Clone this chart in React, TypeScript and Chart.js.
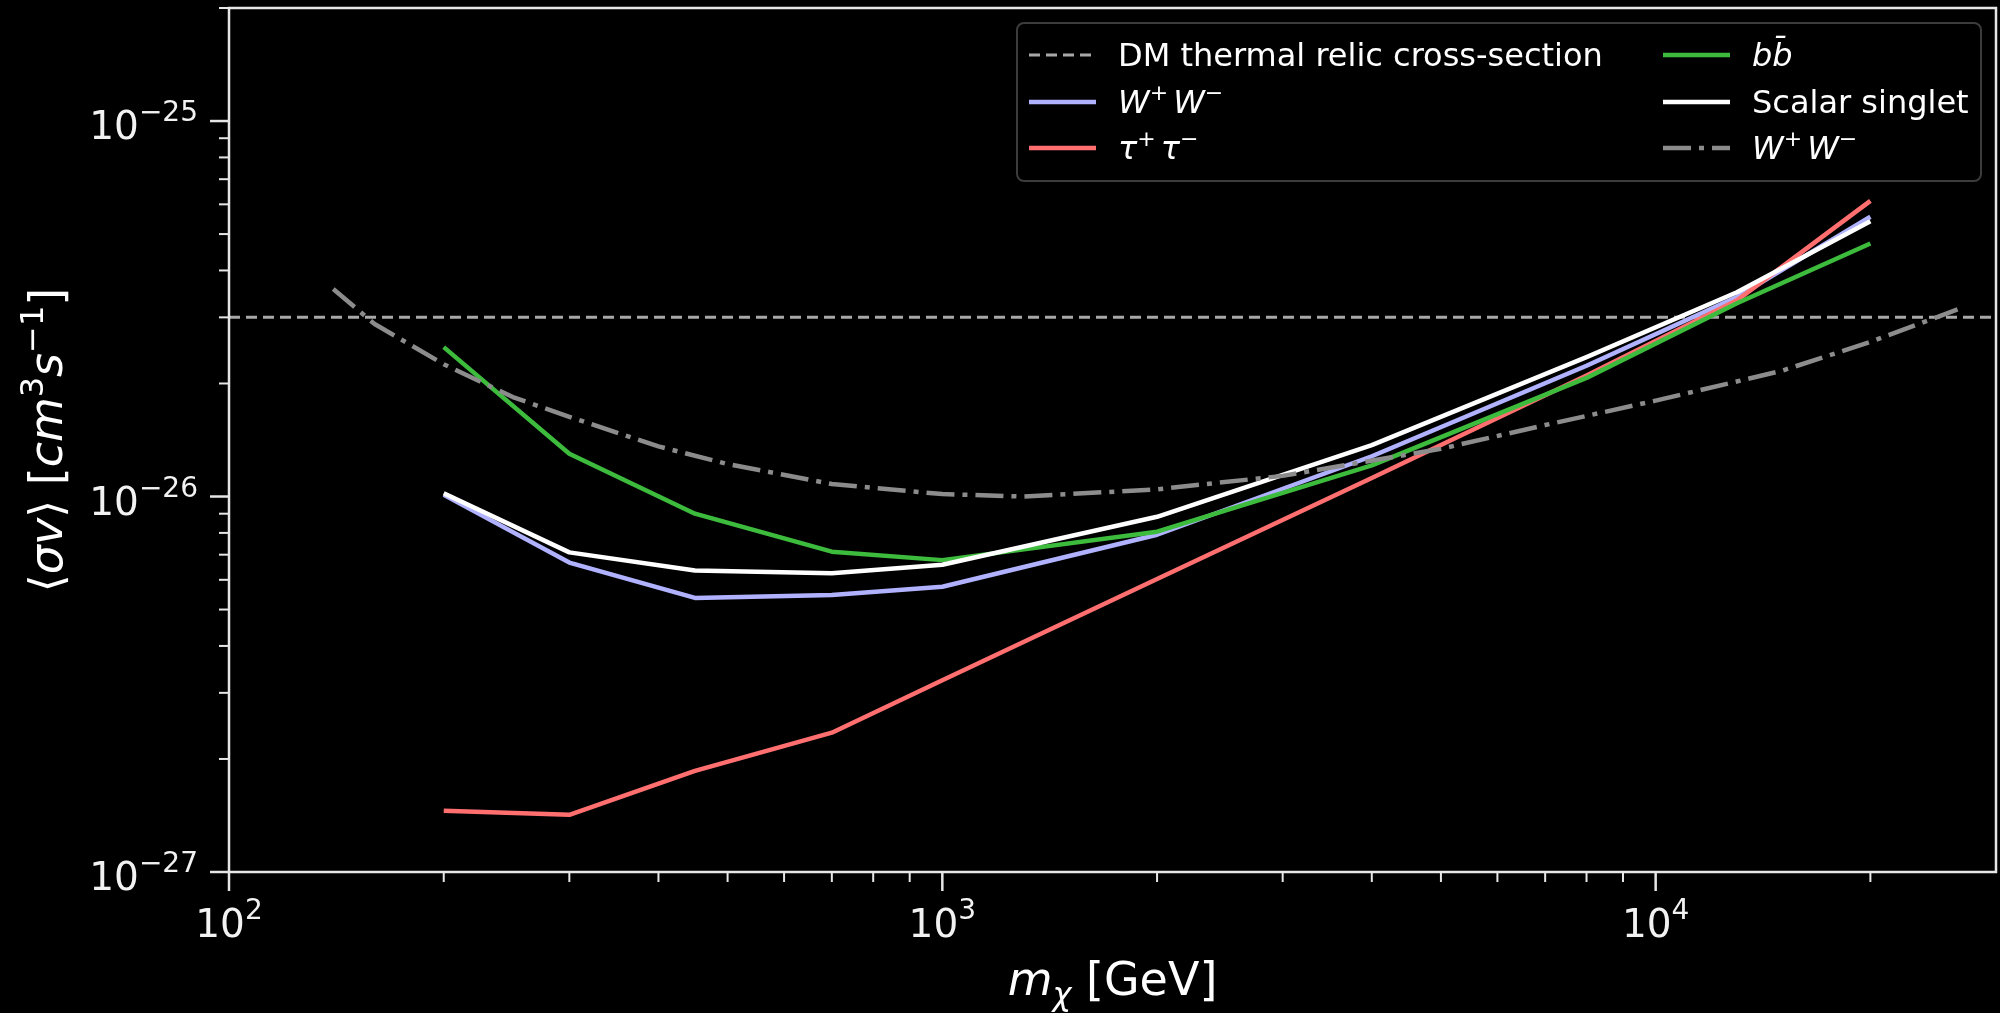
import React, { useEffect, useRef } from 'react';
import { Chart, registerables } from 'chart.js';

Chart.register(...registerables);

// ---------------- data ----------------
const masses = [200, 300, 450, 700, 1000, 2000, 4000, 8000, 13000, 20000];
const wwLimit = [1.01e-26, 6.67e-27, 5.37e-27, 5.47e-27, 5.75e-27, 7.91e-27, 1.28e-26, 2.23e-26, 3.40e-26, 5.56e-26];
const tautauLimit = [1.456e-27, 1.42e-27, 1.86e-27, 2.35e-27, 3.24e-27, 6.03e-27, 1.12e-26, 2.10e-26, 3.33e-26, 6.13e-26];
const bbLimit = [2.50e-26, 1.30e-26, 9.0e-27, 7.13e-27, 6.77e-27, 8.06e-27, 1.21e-26, 2.07e-26, 3.27e-26, 4.72e-26];
const scalarLimit = [1.02e-26, 7.1e-27, 6.35e-27, 6.25e-27, 6.58e-27, 8.83e-27, 1.37e-26, 2.35e-26, 3.50e-26, 5.41e-26];

const singletMasses = [140, 160, 200, 250, 300, 400, 500, 700, 1000, 1300, 2000, 3000, 5000, 7000, 10000, 15000, 20000, 26500];
const singletWW = [3.57e-26, 2.88e-26, 2.25e-26, 1.84e-26, 1.63e-26, 1.36e-26, 1.22e-26, 1.08e-26, 1.015e-26, 1.0e-26, 1.045e-26, 1.135e-26, 1.34e-26, 1.55e-26, 1.80e-26, 2.16e-26, 2.58e-26, 3.15e-26];

const relicX = [100, 30000];
const relicY = [3e-26, 3e-26];

const xMajorTicks = [100, 1000, 10000];
const xMajorExp = ['2', '3', '4'];
const xMinorTicks = [200, 300, 400, 500, 600, 700, 800, 900, 2000, 3000, 4000, 5000, 6000, 7000, 8000, 9000, 20000];
const yMajorTicks = [1e-27, 1e-26, 1e-25];
const yMajorExp = ['−27', '−26', '−25'];
const yMinorTicks = [2e-27, 3e-27, 4e-27, 5e-27, 6e-27, 7e-27, 8e-27, 9e-27, 2e-26, 3e-26, 4e-26, 5e-26, 6e-26, 7e-26, 8e-26, 9e-26, 2e-25];

const FONT = '"DejaVu Sans", "Liberation Sans", sans-serif';

type Seg = { t: string; italic?: boolean; s?: number; dy?: number };

function measureRich(ctx: CanvasRenderingContext2D, segs: Seg[], size: number) {
  let total = 0;
  for (const seg of segs) {
    ctx.font = `${seg.italic ? 'italic ' : ''}${Math.round(size * (seg.s ?? 1))}px ${FONT}`;
    total += ctx.measureText(seg.t).width;
  }
  return total;
}

function drawRich(ctx: CanvasRenderingContext2D, segs: Seg[], x: number, y: number, size: number, align: 'left' | 'center' | 'right') {
  const total = measureRich(ctx, segs, size);
  let cx = align === 'center' ? x - total / 2 : align === 'right' ? x - total : x;
  ctx.textAlign = 'left';
  ctx.textBaseline = 'alphabetic';
  for (const seg of segs) {
    ctx.font = `${seg.italic ? 'italic ' : ''}${Math.round(size * (seg.s ?? 1))}px ${FONT}`;
    ctx.fillText(seg.t, cx, y + (seg.dy ?? 0) * size);
    cx += ctx.measureText(seg.t).width;
  }
}

const pts = (xs: number[], ys: number[]) => xs.map((x, i) => ({ x, y: ys[i] }));

const decorPlugin = {
  id: 'decor',
  afterDraw(chart: any) {
    const { ctx, chartArea: a, scales } = chart;
    const xs = scales.x;
    const ys = scales.y;
    ctx.save();
    // axes box
    ctx.strokeStyle = '#e6e6e6';
    ctx.lineWidth = 2.5;
    ctx.strokeRect(a.left, a.top, a.right - a.left, a.bottom - a.top);
    // ticks
    const tick = (px: number, len: number, w: number, horiz: boolean) => {
      ctx.lineWidth = w;
      ctx.beginPath();
      if (horiz) {
        ctx.moveTo(a.left, px);
        ctx.lineTo(a.left - len, px);
      } else {
        ctx.moveTo(px, a.bottom);
        ctx.lineTo(px, a.bottom + len);
      }
      ctx.stroke();
    };
    xMajorTicks.forEach((v) => tick(xs.getPixelForValue(v), 19, 2.5, false));
    xMinorTicks.forEach((v) => tick(xs.getPixelForValue(v), 10, 2, false));
    yMajorTicks.forEach((v) => tick(ys.getPixelForValue(v), 19, 2.5, true));
    yMinorTicks.forEach((v) => tick(ys.getPixelForValue(v), 10, 2, true));

    // tick labels
    ctx.fillStyle = '#f2f2f2';
    xMajorTicks.forEach((v, i) => {
      drawRich(ctx, [{ t: '10' }, { t: xMajorExp[i], s: 0.72, dy: -0.46 }], xs.getPixelForValue(v), a.bottom + 65, 39, 'center');
    });
    yMajorTicks.forEach((v, i) => {
      drawRich(ctx, [{ t: '10' }, { t: yMajorExp[i], s: 0.72, dy: -0.46 }], a.left - 31, ys.getPixelForValue(v) + 18, 39, 'right');
    });

    // axis titles
    ctx.fillStyle = '#ffffff';
    drawRich(ctx, [
      { t: 'm', italic: true },
      { t: 'χ', italic: true, s: 0.7, dy: 0.22 },
      { t: ' [GeV]' },
    ], (a.left + a.right) / 2, 995, 46, 'center');

    ctx.save();
    ctx.translate(62, 440);
    ctx.rotate(-Math.PI / 2);
    drawRich(ctx, [
      { t: '⟨' },
      { t: 'σv', italic: true },
      { t: '⟩ [' },
      { t: 'cm', italic: true },
      { t: '3', s: 0.7, dy: -0.42 },
      { t: 's', italic: true },
      { t: '−1', s: 0.7, dy: -0.42 },
      { t: ']' },
    ], 0, 0, 46, 'center');
    ctx.restore();

    // legend
    const ds = chart.data.datasets;
    const bx = 1017, by = 23, bw = 964, bh = 158, r = 7;
    ctx.beginPath();
    ctx.moveTo(bx + r, by);
    ctx.arcTo(bx + bw, by, bx + bw, by + bh, r);
    ctx.arcTo(bx + bw, by + bh, bx, by + bh, r);
    ctx.arcTo(bx, by + bh, bx, by, r);
    ctx.arcTo(bx, by, bx + bw, by, r);
    ctx.closePath();
    ctx.fillStyle = 'rgba(0,0,0,0.85)';
    ctx.fill();
    ctx.strokeStyle = '#3c3c3c';
    ctx.lineWidth = 2;
    ctx.stroke();

    const rows = [55, 102, 148];
    const ww: Seg[] = [
      { t: 'W', italic: true }, { t: '+', s: 0.7, dy: -0.42 }, { t: ' ', s: 0.5 },
      { t: 'W', italic: true }, { t: '−', s: 0.7, dy: -0.42 },
    ];
    const tt: Seg[] = [
      { t: 'τ', italic: true }, { t: '+', s: 0.7, dy: -0.42 }, { t: ' ', s: 0.5 },
      { t: 'τ', italic: true }, { t: '−', s: 0.7, dy: -0.42 },
    ];
    const entries: { d: any; segs: Seg[]; col: number; row: number }[] = [
      { d: ds[0], segs: [{ t: 'DM thermal relic cross-section' }], col: 0, row: 0 },
      { d: ds[1], segs: ww, col: 0, row: 1 },
      { d: ds[2], segs: tt, col: 0, row: 2 },
      { d: ds[3], segs: [{ t: 'bb̄', italic: true }], col: 1, row: 0 },
      { d: ds[4], segs: [{ t: 'Scalar singlet' }], col: 1, row: 1 },
      { d: ds[5], segs: ww, col: 1, row: 2 },
    ];
    const handleX = [1029, 1663];
    const textX = [1118, 1752];
    for (const e of entries) {
      const y = rows[e.row];
      ctx.strokeStyle = e.d.borderColor;
      ctx.lineWidth = e.d.borderWidth;
      ctx.setLineDash(e.d.borderDash || []);
      ctx.beginPath();
      ctx.moveTo(handleX[e.col], y);
      ctx.lineTo(handleX[e.col] + 67, y);
      ctx.stroke();
      ctx.setLineDash([]);
      ctx.fillStyle = '#ffffff';
      drawRich(ctx, e.segs, textX[e.col], y + 11, 32, 'left');
    }
    ctx.restore();
  },
};

export default function App() {
  const ref = useRef<HTMLCanvasElement | null>(null);
  useEffect(() => {
    if (!ref.current) return;
    const chart = new Chart(ref.current, {
      type: 'line',
      data: {
        datasets: [
          { label: 'DM thermal relic cross-section', data: pts(relicX, relicY), borderColor: '#a8a8a8', borderWidth: 3, borderDash: [11, 6], order: 6 },
          { label: 'W+W-', data: pts(masses, wwLimit), borderColor: '#b0b2ff', borderWidth: 4.5, order: 5 },
          { label: 'tau+tau-', data: pts(masses, tautauLimit), borderColor: '#ff6f6f', borderWidth: 4.5, order: 4 },
          { label: 'bb', data: pts(masses, bbLimit), borderColor: '#3dbb3d', borderWidth: 4.5, order: 3 },
          { label: 'Scalar singlet', data: pts(masses, scalarLimit), borderColor: '#ffffff', borderWidth: 4.5, order: 2 },
          { label: 'W+W- singlet', data: pts(singletMasses, singletWW), borderColor: '#8c8c8c', borderWidth: 4.5, borderDash: [28, 8, 5, 8], order: 1 },
        ] as any,
      },
      options: {
        animation: false,
        responsive: false,
        devicePixelRatio: 1,
        layout: { padding: { top: 8, right: 4, left: 0, bottom: 0 } },
        elements: { point: { radius: 0 }, line: { tension: 0, borderJoinStyle: 'round', borderCapStyle: 'butt' } },
        plugins: { legend: { display: false }, tooltip: { enabled: false } },
        scales: {
          x: {
            type: 'logarithmic',
            min: 100,
            max: 30000,
            grid: { display: false },
            border: { display: false },
            ticks: { display: false },
            afterFit: (s: any) => { s.height = 141; s.paddingLeft = 0; s.paddingRight = 0; },
          },
          y: {
            type: 'logarithmic',
            min: 1e-27,
            max: 2e-25,
            grid: { display: false },
            border: { display: false },
            ticks: { display: false },
            afterFit: (s: any) => { s.width = 229; s.paddingTop = 0; s.paddingBottom = 0; },
          },
        },
      } as any,
      plugins: [decorPlugin],
    });
    return () => chart.destroy();
  }, []);
  return (
    <div style={{ position: 'fixed', left: 0, top: 0, width: 2000, height: 1013, background: '#000' }}>
      <canvas ref={ref} width={2000} height={1013} style={{ display: 'block' }} />
    </div>
  );
}
